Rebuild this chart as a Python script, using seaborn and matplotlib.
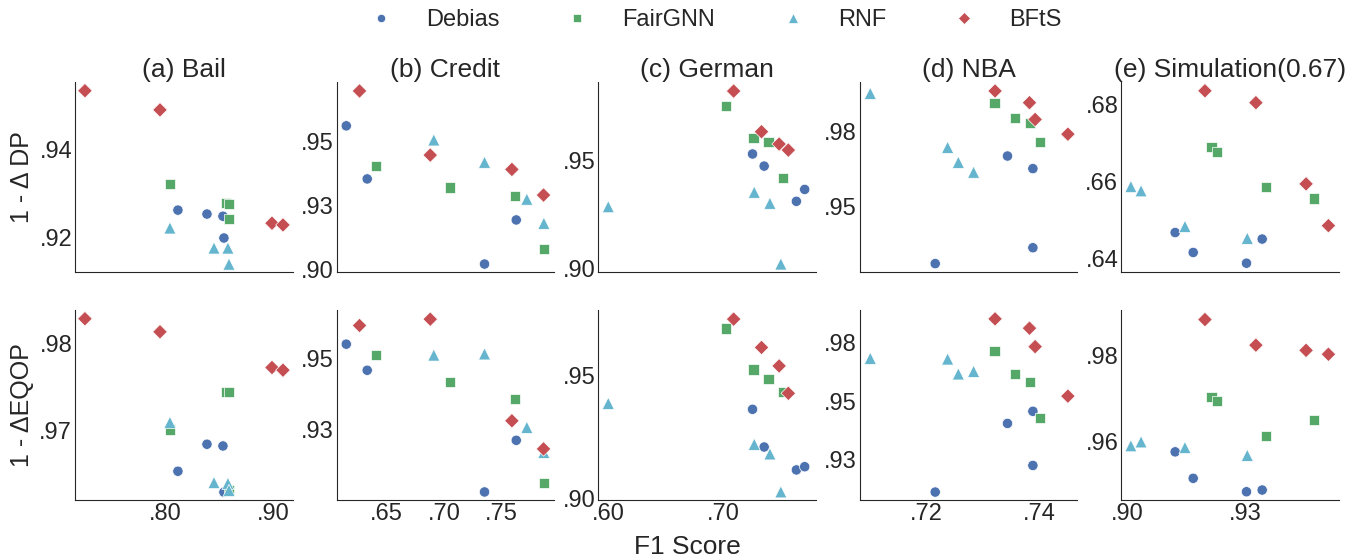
"""
Fairness vs. F1 score for five datasets (1 - dDP on top, 1 - dEQOP below).
"""
import numpy as np
import pandas as pd
import seaborn as sns
import matplotlib
matplotlib.use("Agg")
import matplotlib.pyplot as plt

#--------------------------
# DATA
#--------------------------
methods = ["Debias", "FairGNN", "RNF", "BFtS"]
# each list: Debias x4, FairGNN x4, RNF x4, BFtS x4
bail_f1 = [0.8120, 0.8389, 0.8537, 0.8546,
           0.8046, 0.8565, 0.8593, 0.8593,
           0.8046, 0.8454, 0.8583, 0.8593,
           0.7259, 0.7954, 0.8991, 0.9093]
bail_dp = [0.9262, 0.9253, 0.9248, 0.9198,
           0.9322, 0.9278, 0.9276, 0.9241,
           0.9221, 0.9175, 0.9175, 0.9138,
           0.9536, 0.9492, 0.9232, 0.9228]
bail_eqop = [0.9653, 0.9684, 0.9682, 0.9629,
             0.9701, 0.9744, 0.9744, 0.9631,
             0.9709, 0.9640, 0.9639, 0.9631,
             0.9828, 0.9813, 0.9772, 0.9769]

credit_f1 = [0.6150, 0.6332, 0.7352, 0.7628,
             0.6410, 0.7050, 0.7619, 0.7868,
             0.6911, 0.7352, 0.7720, 0.7868,
             0.6265, 0.6880, 0.7590, 0.7865]
credit_dp = [0.9562, 0.9355, 0.9023, 0.9195,
             0.9405, 0.9321, 0.9288, 0.9081,
             0.9507, 0.9420, 0.9276, 0.9182,
             0.9698, 0.9448, 0.9392, 0.9292]
credit_eqop = [0.9549, 0.9458, 0.9034, 0.9214,
               0.9512, 0.9416, 0.9359, 0.9066,
               0.9511, 0.9515, 0.9259, 0.9172,
               0.9614, 0.9636, 0.9282, 0.9184]

german_f1 = [0.7253, 0.7354, 0.7634, 0.7706,
             0.7023, 0.7262, 0.7392, 0.7519,
             0.6000, 0.7268, 0.7404, 0.7499,
             0.7089, 0.7331, 0.7484, 0.7564]
german_dp = [0.9528, 0.9472, 0.9309, 0.9364,
             0.9750, 0.9601, 0.9583, 0.9418,
             0.9284, 0.9351, 0.9300, 0.9019,
             0.9819, 0.9631, 0.9574, 0.9546]
german_eqop = [0.9361, 0.9208, 0.9115, 0.9128,
               0.9689, 0.9523, 0.9485, 0.9430,
               0.9385, 0.9219, 0.9180, 0.9026,
               0.9727, 0.9612, 0.9537, 0.9426]

nba_f1 = [0.7215, 0.7343, 0.7388, 0.7388,
          0.7320, 0.7356, 0.7383, 0.7401,
          0.7100, 0.7237, 0.7256, 0.7283,
          0.7321, 0.7382, 0.7392, 0.7450]
nba_dp = [0.9310, 0.9669, 0.9627, 0.9363,
          0.9847, 0.9797, 0.9780, 0.9715,
          0.9878, 0.9698, 0.9648, 0.9615,
          0.9886, 0.9847, 0.9791, 0.9742]
nba_eqop = [0.9110, 0.9404, 0.9456, 0.9224,
            0.9714, 0.9617, 0.9582, 0.9426,
            0.9683, 0.9680, 0.9616, 0.9627,
            0.9852, 0.9812, 0.9733, 0.9521]

sim_f1 = [0.9122, 0.9168, 0.9304, 0.9344,
          0.9215, 0.9229, 0.9354, 0.9476,
          0.9009, 0.9035, 0.9147, 0.9306,
          0.9198, 0.9328, 0.9456, 0.9513]
sim_dp = [0.6467, 0.6415, 0.6387, 0.6450,
          0.6690, 0.6678, 0.6585, 0.6556,
          0.6587, 0.6576, 0.6483, 0.6452,
          0.6837, 0.6806, 0.6594, 0.6485]
sim_eqop = [0.9577, 0.9516, 0.9485, 0.9489,
            0.9704, 0.9695, 0.9614, 0.9650,
            0.9591, 0.9600, 0.9587, 0.9569,
            0.9882, 0.9823, 0.9811, 0.9802]

titles = ["(a) Bail", "(b) Credit", "(c) German", "(d) NBA", "(e) Simulation(0.67)"]

# axis ticks / labels per panel
x_ticks = [[0.80, 0.90], [0.65, 0.70, 0.75], [0.60, 0.70], [0.72, 0.74], [0.90, 0.93]]
x_labels = [[".80", ".90"], [".65", ".70", ".75"], [".60", ".70"], [".72", ".74"], [".90", ".93"]]
dp_ticks = [[0.92, 0.94], [0.90, 0.925, 0.95], [0.90, 0.95], [0.95, 0.975], [0.64, 0.66, 0.68]]
dp_labels = [[".92", ".94"], [".90", ".93", ".95"], [".90", ".95"], [".95", ".98"], [".64", ".66", ".68"]]
eqop_ticks = [[0.97, 0.98], [0.925, 0.95], [0.90, 0.95], [0.925, 0.95, 0.975], [0.96, 0.98]]
eqop_labels = [[".97", ".98"], [".93", ".95"], [".90", ".95"], [".93", ".95", ".98"], [".96", ".98"]]

x_lims = [(0.7167, 0.9185), (0.6065, 0.7960), (0.5911, 0.7804), (0.7081, 0.7467), (0.8984, 0.9540)]
dp_lims = [(0.9120, 0.9556), (0.8992, 0.9733), (0.8982, 0.9861), (0.9282, 0.9916), (0.6364, 0.6860)]
eqop_lims = [(0.9620, 0.9838), (0.9006, 0.9668), (0.8993, 0.9764), (0.9076, 0.9890), (0.9466, 0.9904)]

#--------------------------
# build long table
#--------------------------
f1s = [bail_f1, credit_f1, german_f1, nba_f1, sim_f1]
dps = [bail_dp, credit_dp, german_dp, nba_dp, sim_dp]
eqops = [bail_eqop, credit_eqop, german_eqop, nba_eqop, sim_eqop]

frames = []
for i, t in enumerate(titles):
    frames.append(pd.DataFrame({
        "panel": i,
        "method": np.repeat(methods, 4),
        "f1": f1s[i],
        "dp": dps[i],
        "eqop": eqops[i],
    }))
df = pd.concat(frames, ignore_index=True)

#--------------------------
# PLOT
#--------------------------
sns.set_style("white")
plt.rcParams["font.family"] = ["Liberation Sans", "DejaVu Sans"]

palette = {"Debias": "#4C72B0", "FairGNN": "#55A868", "RNF": "#64B5CD", "BFtS": "#C44E52"}
markers = {"Debias": "o", "FairGNN": "s", "RNF": "^", "BFtS": "D"}
# triangles look smaller than the rest at equal area, bump them a bit
msizes = {"Debias": 55, "FairGNN": 55, "RNF": 75, "BFtS": 55}

fig, axes = plt.subplots(2, 5, figsize=(13.64, 5.59), dpi=100, sharex="col")
fig.subplots_adjust(left=75 / 1364, right=1339 / 1364, top=1 - 82 / 559,
                    bottom=1 - 500 / 559, wspace=0.2, hspace=0.2)

for i in range(5):
    sub = df[df.panel == i]
    for row, (col, ticks, labels, lims) in enumerate(
            [("dp", dp_ticks, dp_labels, dp_lims), ("eqop", eqop_ticks, eqop_labels, eqop_lims)]):
        ax = axes[row, i]
        sns.scatterplot(data=sub, x="f1", y=col, hue="method", style="method",
                        size="method", sizes=msizes, size_order=methods,
                        palette=palette, markers=markers, hue_order=methods,
                        style_order=methods, linewidth=0.5, ax=ax,
                        legend=(i == 0 and row == 0))
        ax.set_ylim(lims[i])
        ax.set_yticks(ticks[i])
        ax.set_yticklabels(labels[i])
        ax.set_xlim(x_lims[i])
        ax.set_xticks(x_ticks[i])
        ax.set_xticklabels(x_labels[i])
        ax.set_xlabel("")
        ax.set_ylabel("")
        ax.tick_params(axis="both", length=0, labelsize=17, pad=2, colors="#262626")
        sns.despine(ax=ax)
    axes[0, i].set_title(titles[i], fontsize=19, pad=1)
    axes[0, i].tick_params(axis="x", labelbottom=False)

handles, labels = axes[0, 0].get_legend_handles_labels()
axes[0, 0].get_legend().remove()
fig.legend(handles, labels, loc="center", bbox_to_anchor=(0.52, 0.964), ncol=4,
           frameon=False, fontsize=17, handletextpad=0.9, columnspacing=2.3,
           markerscale=0.8)

fig.text(22 / 1364, 1 - 177 / 559, "1 - Δ DP", rotation=90, ha="center", va="center", fontsize=18)
fig.text(22 / 1364, 1 - 405 / 559, "1 - ΔEQOP", rotation=90, ha="center", va="center", fontsize=18)
fig.text(0.504, 0.022, "F1 Score", ha="center", va="center", fontsize=19)

plt.savefig("out.png")
